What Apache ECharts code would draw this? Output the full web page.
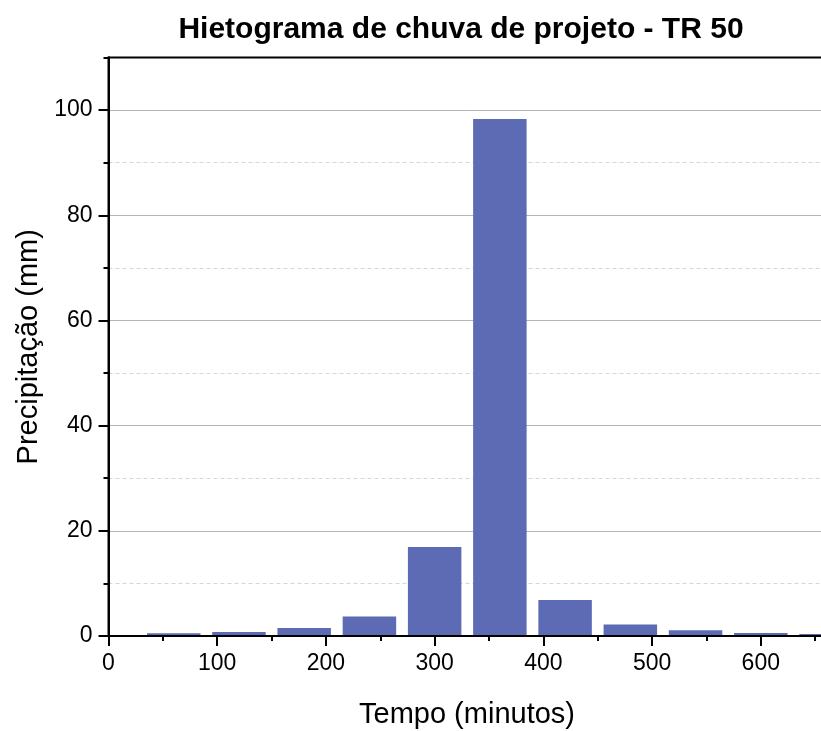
<!DOCTYPE html>
<html>
<head>
<meta charset="utf-8">
<title>Hietograma de chuva de projeto - TR 50</title>
<script src="https://cdn.jsdelivr.net/npm/echarts@6/dist/echarts.min.js"></script>
<style>
  html, body { margin: 0; padding: 0; background: #ffffff; }
  #chart { width: 821px; height: 731px; }
</style>
</head>
<body>
<div id="chart"></div>
<script>
// Design storm hyetograph, return period 50 years (alternating blocks, 60-min steps)
const minutes = [60, 120, 180, 240, 300, 360, 420, 480, 540, 600, 660];
const precipitation = [0.5, 0.75, 1.5, 3.7, 16.9, 98.3, 6.85, 2.2, 1.08, 0.57, 0.38];
const xTicks = [0, 100, 200, 300, 400, 500, 600, 700];
const yTicks = [0, 20, 40, 60, 80, 100];

const FONT = '"Liberation Sans", Arial, Helvetica, sans-serif';
const chart = echarts.init(document.getElementById('chart'), null, { renderer: 'canvas' });

chart.setOption({
  animation: false,
  backgroundColor: '#ffffff',
  textStyle: { fontFamily: FONT },
  title: {
    text: 'Hietograma de chuva de projeto - TR 50',
    left: 461,
    top: 15,
    textAlign: 'center',
    padding: 0,
    textStyle: { fontFamily: FONT, fontSize: 30, fontWeight: 'bold', color: '#000' }
  },
  grid: {
    left: 108.5,
    top: 57.5,
    bottom: 95,
    right: -48.5,
    outerBoundsMode: 'none',
    containLabel: false,
    show: true,
    z: 3,
    borderColor: '#000',
    borderWidth: 2,
    backgroundColor: 'transparent'
  },
  xAxis: {
    type: 'value',
    min: xTicks[0],
    max: xTicks[xTicks.length - 1],
    interval: xTicks[1] - xTicks[0],
    name: 'Tempo (minutos)',
    nameLocation: 'middle',
    nameGap: 64,
    nameTextStyle: { fontFamily: FONT, fontSize: 29, color: '#000', padding: [0, 44, 0, 0] },
    axisLine: { show: true, onZero: false, lineStyle: { color: '#000', width: 2 } },
    axisTick: { show: true, inside: false, length: 10, lineStyle: { color: '#000', width: 2 } },
    minorTick: { show: true, splitNumber: 2, length: 5, lineStyle: { color: '#000', width: 2 } },
    axisLabel: { fontFamily: FONT, fontSize: 23, color: '#000', margin: 16 },
    splitLine: { show: false }
  },
  yAxis: [
    {
      // minor grid (every 10 mm)
      type: 'value',
      position: 'left',
      min: 0,
      max: 110,
      interval: 10,
      axisLine: { show: true, onZero: false, lineStyle: { color: '#000', width: 2 } },
      axisTick: { show: true, length: 5, lineStyle: { color: '#000', width: 2 } },
      axisLabel: { show: false },
      splitLine: { show: true, lineStyle: { color: '#d6d6d6', width: 1, type: [4, 3] } }
    },
    {
      // major grid, labels and axis title (every 20 mm)
      type: 'value',
      position: 'left',
      min: 0,
      max: 110,
      interval: yTicks[1] - yTicks[0],
      name: 'Precipitação (mm)',
      nameLocation: 'middle',
      nameRotate: 90,
      nameGap: 63,
      nameTextStyle: { fontFamily: FONT, fontSize: 29, color: '#000' },
      axisLine: { show: true, onZero: false, lineStyle: { color: '#000', width: 2 } },
      axisTick: { show: true, length: 10, customValues: yTicks, lineStyle: { color: '#000', width: 2 } },
      axisLabel: { fontFamily: FONT, fontSize: 23, color: '#000', margin: 16, showMaxLabel: false },
      splitLine: { show: true, lineStyle: { color: '#b4b4b4', width: 1, type: 'solid' } }
    }
  ],
  series: [
    {
      type: 'bar',
      xAxisIndex: 0,
      yAxisIndex: 0,
      barWidth: '82%',
      clip: true,
      itemStyle: { color: '#5c6bb3' },
      data: minutes.map((m, i) => [m, precipitation[i]])
    }
  ]
});
</script>
</body>
</html>
